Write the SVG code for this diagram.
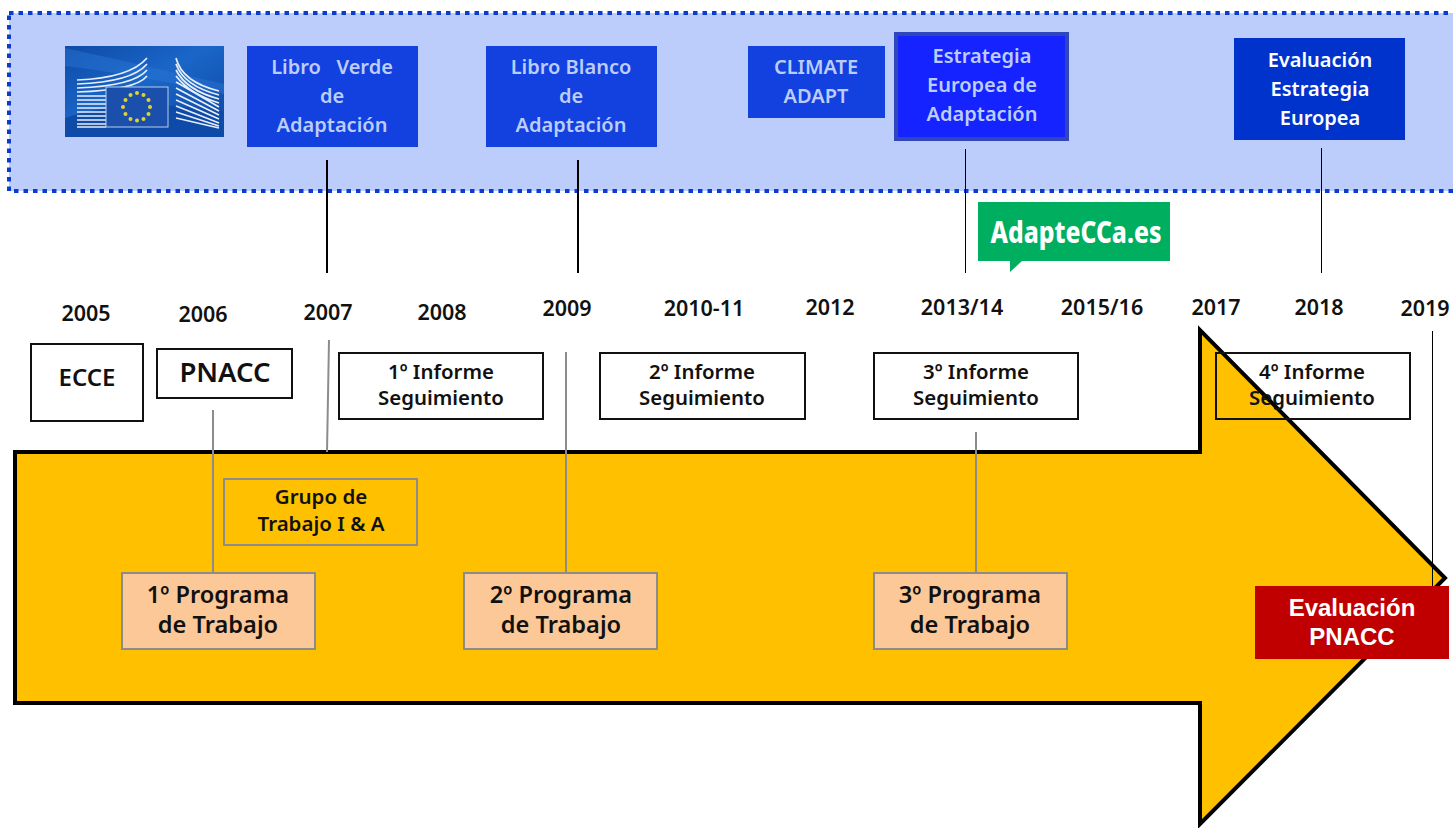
<svg xmlns="http://www.w3.org/2000/svg" width="1453" height="828" viewBox="0 0 1453 828">
<style>
text{font-family:"Noto Sans","Open Sans","Liberation Sans",sans-serif;text-anchor:middle}
.y{font-size:21.500px;font-weight:600;fill:#111}
.wb{fill:#fff;stroke:#111;stroke-width:2}
.inf{font-size:20.400px;font-weight:600;fill:#111}
.prog{fill:#fdc898;stroke:#8c8c8c;stroke-width:2}
.pt{font-size:23.600px;font-weight:600;fill:#111}
.gt{font-size:20.500px;font-weight:600;fill:#111}
.eu{font-size:20px;font-weight:600;fill:#bccdfb}
.w{fill:#fff}
.ev{font-family:"Liberation Sans",sans-serif;font-size:24px;font-weight:700;fill:#fff}
.k{stroke:#000;fill:none}
.g{stroke:#8c8c8c;stroke-width:2;fill:none}
.bar{stroke:#e6eefa;stroke-width:1.700;fill:none}
</style>
<defs><linearGradient id="lg" x1="0" y1="0" x2="1" y2="1"><stop offset="0" stop-color="#0f4aa6"/><stop offset=".45" stop-color="#1a66c8"/><stop offset="1" stop-color="#0e44a0"/></linearGradient></defs>
<g id="eu-band"><rect x="9" y="13" width="1450" height="178" fill="#bccdfb" stroke="#0a3cd2" stroke-width="4" stroke-dasharray="4.500 5"/></g>
<g id="arrow"><path d="M15 452H1200V330L1445 578L1200 824V703H15Z" fill="#ffc000" stroke="#000" stroke-width="4"/></g>
<g id="connectors">
<path class="k" stroke-width="2" d="M327 160V273M578 160V273"/>
<path class="k" stroke-width="1" d="M965.500 149V273M1321.500 148V273M1432.500 331V586"/>
<path class="g" d="M213 410V573M329 340L327 452M566 352V573M976 432V573"/>
</g>
<g id="logo">
<rect x="65" y="46" width="159" height="91" fill="url(#lg)"/>
<path d="M65 48Q120 60 224 84V94Q120 72 65 66Z" fill="#2a78d8" opacity=".45"/>
<path d="M65 118Q130 96 224 112V137H65Z" fill="#0e4aa8"/>
<g class="bar"><path d="M77 80Q130 78 147 58M77 84Q132 82 147 64M77 88Q134 86 147 70M77 92Q136 90 147 76M77 96H106M77 100H106M77 104H106M77 108H106M77 112H106M77 116H106M77 120H106M77 124H106M77 127H106"/>
<path d="M176 58Q182 82 219 91M176 64Q184 86 219 95M176 70Q186 90 219 99M176 76Q190 94 219 103M176 82L219 107M176 88L219 111M176 94L219 115M176 100L219 119M176 106L219 123M176 112L219 126M176 118L219 128"/></g>
<rect x="106" y="87" width="62" height="40" fill="#1a50ac" stroke="#b8cdea" stroke-width="1"/>
<g fill="#e4d030"><circle cx="137" cy="93" r="2"/><circle cx="143.500" cy="95" r="2"/><circle cx="148.500" cy="100" r="2"/><circle cx="150" cy="107" r="2"/><circle cx="148.500" cy="114" r="2"/><circle cx="143.500" cy="119" r="2"/><circle cx="137" cy="120.500" r="2"/><circle cx="130.500" cy="119" r="2"/><circle cx="125.500" cy="114" r="2"/><circle cx="123" cy="107" r="2"/><circle cx="125.500" cy="100" r="2"/><circle cx="130.500" cy="95" r="2"/></g>
</g>
<g id="libro-verde"><rect x="247" y="46" width="171" height="101" fill="#1241e0"/><text class="eu" x="332" y="74" xml:space="preserve">Libro   Verde</text><text class="eu" x="332" y="103">de</text><text class="eu" x="332" y="132">Adaptación</text></g>
<g id="libro-blanco"><rect x="486" y="46" width="171" height="101" fill="#1241e0"/><text class="eu" x="571" y="74">Libro Blanco</text><text class="eu" x="571" y="103">de</text><text class="eu" x="571" y="132">Adaptación</text></g>
<g id="climate-adapt"><rect x="748" y="46" width="137" height="72" fill="#1241e0"/><text class="eu" x="816" y="74">CLIMATE</text><text class="eu" x="816" y="103">ADAPT</text></g>
<g id="estrategia"><rect x="896" y="34" width="171" height="105" fill="#1423ff" stroke="#3046bd" stroke-width="4"/><text class="eu" x="982" y="63">Estrategia</text><text class="eu" x="982" y="92">Europea de</text><text class="eu" x="982" y="121">Adaptación</text></g>
<g id="evaluacion-estrategia"><rect x="1234" y="38" width="171" height="102" fill="#0033cc"/><text class="eu w" x="1320" y="67" style="fill:#fff">Evaluación</text><text class="eu w" x="1320" y="96" style="fill:#fff">Estrategia</text><text class="eu w" x="1320" y="125" style="fill:#fff">Europea</text></g>
<g id="adaptecca"><path d="M978 202H1170V261H1022L1010 272V261H978Z" fill="#00ae5f"/><text x="1076" y="243" font-size="30" font-weight="800" fill="#fff" textLength="171" lengthAdjust="spacingAndGlyphs">AdapteCCa.es</text></g>
<g id="years">
<text class="y" x="86" y="321">2005</text><text class="y" x="203" y="322">2006</text><text class="y" x="328" y="320">2007</text><text class="y" x="442" y="320">2008</text><text class="y" x="567" y="316">2009</text><text class="y" x="704" y="316">2010-11</text><text class="y" x="830" y="315">2012</text><text class="y" x="962" y="315">2013/14</text><text class="y" x="1102" y="315">2015/16</text><text class="y" x="1216" y="315">2017</text><text class="y" x="1319" y="315">2018</text><text class="y" x="1425" y="316">2019</text>
</g>
<g id="ecce"><rect class="wb" x="31" y="344" width="112" height="77"/><text x="87" y="386" font-size="24" font-weight="600" fill="#111">ECCE</text></g>
<g id="pnacc"><rect class="wb" x="157" y="349" width="135" height="49"/><text x="225" y="382" font-size="27.500" font-weight="600" fill="#111">PNACC</text></g>
<g id="informe-1"><rect class="wb" x="339" y="353" width="204" height="66"/><text class="inf" x="441" y="379">1º Informe</text><text class="inf" x="441" y="405">Seguimiento</text></g>
<g id="informe-2"><rect class="wb" x="600" y="353" width="205" height="66"/><text class="inf" x="702" y="379">2º Informe</text><text class="inf" x="702" y="405">Seguimiento</text></g>
<g id="informe-3"><rect class="wb" x="874" y="353" width="204" height="66"/><text class="inf" x="976" y="379">3º Informe</text><text class="inf" x="976" y="405">Seguimiento</text></g>
<g id="informe-4"><rect x="1216" y="353" width="194" height="66" fill="none" stroke="#111" stroke-width="2"/><text class="inf" x="1312" y="379">4º Informe</text><text class="inf" x="1312" y="405">Seguimiento</text></g>
<g id="grupo-trabajo"><rect x="224" y="479" width="193" height="66" fill="none" stroke="#8c8c8c" stroke-width="2"/><text class="gt" x="321" y="504">Grupo de</text><text class="gt" x="321" y="531">Trabajo I &amp; A</text></g>
<g id="programa-1"><rect class="prog" x="122" y="573" width="193" height="76"/><text class="pt" x="218" y="603">1º Programa</text><text class="pt" x="218" y="633">de Trabajo</text></g>
<g id="programa-2"><rect class="prog" x="464" y="573" width="193" height="76"/><text class="pt" x="561" y="603">2º Programa</text><text class="pt" x="561" y="633">de Trabajo</text></g>
<g id="programa-3"><rect class="prog" x="874" y="573" width="193" height="76"/><text class="pt" x="970" y="603">3º Programa</text><text class="pt" x="970" y="633">de Trabajo</text></g>
<g id="evaluacion-pnacc"><rect x="1255" y="586" width="194" height="73" fill="#c00000"/><text class="ev" x="1352" y="616">Evaluación</text><text class="ev" x="1352" y="645">PNACC</text></g>
</svg>
